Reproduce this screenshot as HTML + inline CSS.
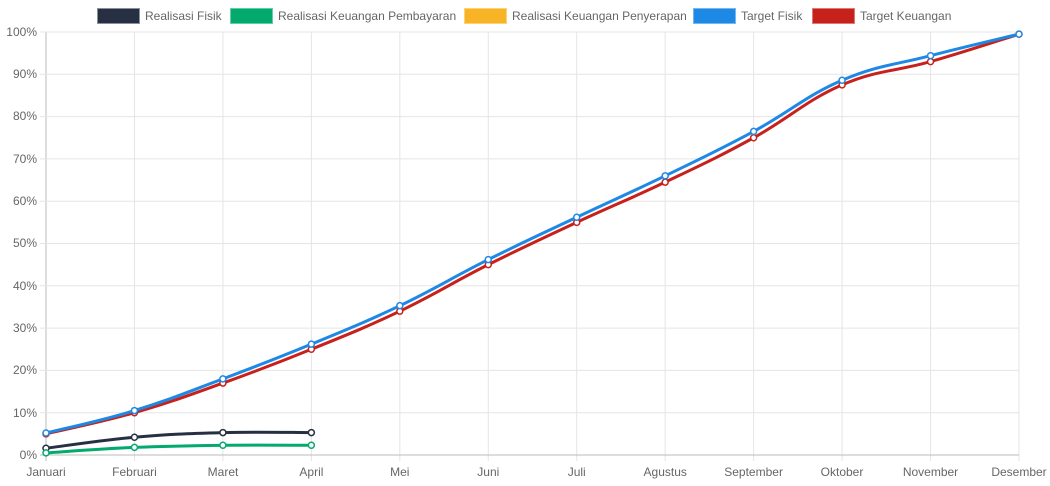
<!DOCTYPE html>
<html><head><meta charset="utf-8"><style>
html,body{margin:0;padding:0;background:#fff;}
svg{display:block;font-family:"Liberation Sans",Arial,sans-serif;}
</style></head><body>
<svg id="c" width="1050" height="486" viewBox="0 0 1050 486">
<g id="grid"></g>
<g font-size="12" fill="#666">
<rect x="97.5" y="8.5" width="42" height="15" fill="#273043" stroke="#8a8f99"/><text x="145" y="20">Realisasi Fisik</text>
<rect x="230.5" y="8.5" width="42" height="15" fill="#04a96d" stroke="#5fd0a5"/><text x="278" y="20">Realisasi Keuangan Pembayaran</text>
<rect x="464.5" y="8.5" width="42" height="15" fill="#f8b425" stroke="#fbd27a"/><text x="512" y="20">Realisasi Keuangan Penyerapan</text>
<rect x="693.5" y="8.5" width="42" height="15" fill="#1e88e5" stroke="#78b6ef"/><text x="741" y="20">Target Fisik</text>
<rect x="812.5" y="8.5" width="42" height="15" fill="#c7211c" stroke="#de7b78"/><text x="860" y="20">Target Keuangan</text>
</g>
<g font-size="12" fill="#666" text-anchor="end">
<text x="37" y="36">100%</text><text x="37" y="78">90%</text><text x="37" y="120">80%</text><text x="37" y="163">70%</text><text x="37" y="205">60%</text><text x="37" y="247">50%</text><text x="37" y="290">40%</text><text x="37" y="332">30%</text><text x="37" y="374">20%</text><text x="37" y="417">10%</text><text x="37" y="459">0%</text>
</g>
<g font-size="12" fill="#666" text-anchor="middle">
<text x="46" y="476">Januari</text><text x="134.5" y="476">Februari</text><text x="223" y="476">Maret</text><text x="311.4" y="476">April</text><text x="399.8" y="476">Mei</text><text x="488.3" y="476">Juni</text><text x="576.7" y="476">Juli</text><text x="665.2" y="476">Agustus</text><text x="753.6" y="476">September</text><text x="842" y="476">Oktober</text><text x="930.5" y="476">November</text><text x="1019" y="476">Desember</text>
</g>
<g id="series"></g>
</svg>
<script>
var x0=46,dx=(1019-46)/11,y0=455,py=4.23;
var g=document.getElementById('grid'),h='';
for(var i=0;i<12;i++){var x=x0+i*dx;h+='<line x1="'+x+'" y1="32" x2="'+x+'" y2="461" stroke="'+(i==0?'#bbb':'#e5e5e5')+'"/>';}
for(var j=0;j<=10;j++){var y=y0-j*10*py;h+='<line x1="40" y1="'+y+'" x2="1019" y2="'+y+'" stroke="'+(j==0?'#bbb':'#e5e5e5')+'"/>';}
g.innerHTML=h;
var S=[
{c:'#c7211c',d:[5,10,17,25,34,45,55,64.5,75,87.5,93,99.5]},
{c:'#1e88e5',d:[5.2,10.5,18,26.2,35.3,46.2,56.2,66,76.5,88.6,94.4,99.5]},
{c:'#273043',d:[1.6,4.2,5.3,5.3]},
{c:'#04a96d',d:[0.5,1.8,2.3,2.3]}];
var out='';
S.forEach(function(s){
 var p=s.d.map(function(v,i){return [x0+i*dx,y0-v*py];});
 var d='M'+p[0][0]+','+p[0][1],t=0.2;
 for(var i=0;i<p.length-1;i++){
  var a=p[i-1]||p[i],b=p[i],c=p[i+1],e=p[i+2]||c;
  var c1=[b[0]+(c[0]-a[0])*t,b[1]+(c[1]-a[1])*t],c2=[c[0]-(e[0]-b[0])*t,c[1]-(e[1]-b[1])*t];
  d+=' C'+c1+' '+c2+' '+c;
 }
 out+='<path d="'+d+'" fill="none" stroke="'+s.c+'" stroke-width="3"/>';
 p.forEach(function(q){out+='<circle cx="'+q[0]+'" cy="'+q[1]+'" r="3" fill="#fff" stroke="'+s.c+'" stroke-width="1.5"/>';});
});
document.getElementById('series').innerHTML=out;
</script>
</body></html>
